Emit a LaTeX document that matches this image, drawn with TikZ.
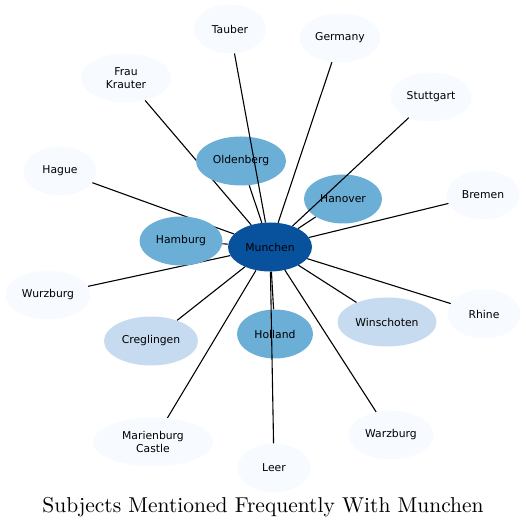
\documentclass[tikz,border=0pt]{standalone}
\usepackage{fontspec}
\usepackage{xcolor}
\usetikzlibrary{shapes.geometric,backgrounds}
\newfontfamily\dejavu{DejaVu Sans}
\newfontfamily\titlefont{lmroman10-regular}[Extension=.otf]
\definecolor{blueA}{HTML}{F7FBFF}
\definecolor{blueB}{HTML}{C6DBEF}
\definecolor{blueC}{HTML}{6BAED6}
\definecolor{blueD}{HTML}{08519C}
\tikzset{
    subj/.style={ellipse, inner sep=0pt, minimum height=49pt, align=center,
        font=\dejavu\fontsize{10.8}{13}\selectfont, text=black},
    rare/.style={subj, fill=blueA},
    some/.style={subj, fill=blueB},
    often/.style={subj, fill=blueC},
    hub/.style={subj, fill=blueD},
    link/.style={draw=black, line width=1.1pt},
}

\begin{document}
\begin{tikzpicture}[x=1pt,y=1pt]
            \useasboundingbox (0,0) rectangle (526,529);

            \node[hub, minimum width=84pt] (munchen) at (270,282) {Munchen};

            \node[rare, minimum width=72pt] (tauber) at (230,500) {Tauber};
            \node[rare, minimum width=90pt] (frau) at (126,451) {Frau\\Krauter};
            \node[rare, minimum width=81pt] (germany) at (340,491) {Germany};
            \node[rare, minimum width=81pt] (stuttgart) at (431,432) {Stuttgart};
            \node[rare, minimum width=73pt] (hague) at (60,358) {Hague};
            \node[rare, minimum width=73pt] (bremen) at (483,334) {Bremen};
            \node[rare, minimum width=85pt] (wurzburg) at (48,234) {Wurzburg};
            \node[rare, minimum width=73pt] (rhine) at (484,215) {Rhine};
            \node[rare, minimum width=120pt] (marienburg) at (153,87) {Marienburg\\Castle};
            \node[rare, minimum width=85pt] (warzburg) at (391,94) {Warzburg};
            \node[rare, minimum width=73pt] (leer) at (274,61) {Leer};

            \node[some, minimum width=94pt] (creglingen) at (151,188) {Creglingen};
            \node[some, minimum width=99pt] (winschoten) at (387,207) {Winschoten};

            \node[often, minimum width=90pt] (oldenberg) at (241,368) {Oldenberg};
            \node[often, minimum width=83pt] (hamburg) at (181,288) {Hamburg};
            \node[often, minimum width=78pt] (hanover) at (343,330) {Hanover};
            \node[often, minimum width=76pt] (holland) at (275,195) {Holland};

            \begin{pgfonlayer}{background}
                \foreach \other in {frau, germany, hague, bremen, wurzburg, rhine,
                    marienburg, warzburg, creglingen, winschoten, oldenberg,
                    hamburg, hanover, holland}
                    \draw[link] (munchen) -- (\other);
            \end{pgfonlayer}

            \draw[link] (munchen) -- (tauber);
            \draw[link] (munchen) -- (stuttgart);
            \draw[link] (munchen) -- (leer);

            \node (title) at (263,22) {\titlefont\fontsize{21.5}{25}\selectfont Subjects Mentioned Frequently With Munchen};
        \end{tikzpicture}
\end{document}
